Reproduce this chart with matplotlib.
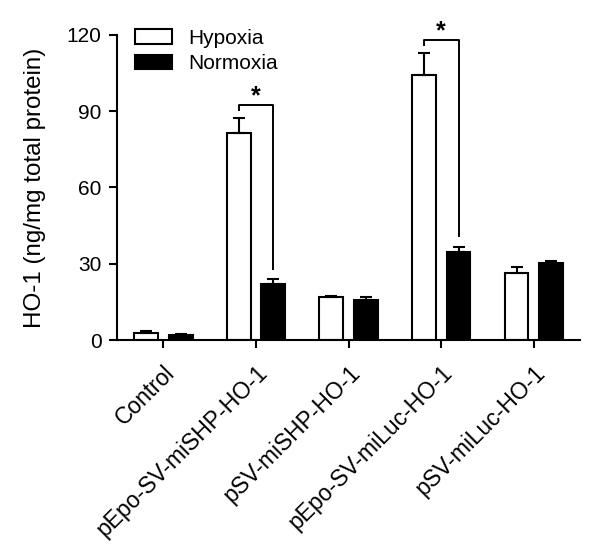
import numpy as np
import matplotlib.pyplot as plt

plt.rcParams['font.family'] = ['Liberation Sans', 'DejaVu Sans']

# data
groups = ['Control', 'pEpo-SV-miSHP-HO-1', 'pSV-miSHP-HO-1', 'pEpo-SV-miLuc-HO-1', 'pSV-miLuc-HO-1']
hypoxia = [2.8, 81.6, 17.0, 104.2, 26.5]
hypoxia_err = [0.6, 5.6, 0.3, 8.6, 2.1]
normoxia = [1.9, 21.9, 15.7, 34.7, 30.2]
normoxia_err = [0.3, 2.0, 1.3, 1.8, 1.0]
yticks = [0, 30, 60, 90, 120]

# significance brackets: (group index, left bottom, top, right bottom, star y)
sig = [(1, 90.5, 92.4, 27.8, 95.8), (3, 116.0, 118.0, 41.0, 121.2)]

fig = plt.figure(figsize=(6, 5.53), dpi=100)
ax = fig.add_axes([0.195, 0.385, 0.772, 0.552])

x = np.arange(len(groups))
w = 0.257
off = 0.187
ax.bar(x - off, hypoxia, w, color='white', edgecolor='black', linewidth=1.5,
       yerr=[np.zeros(len(x)), hypoxia_err], capsize=4.5,
       error_kw=dict(elinewidth=1.5, capthick=1.5), label='Hypoxia')
ax.bar(x + off, normoxia, w, color='black', edgecolor='black', linewidth=1.5,
       yerr=[np.zeros(len(x)), normoxia_err], capsize=4.5,
       error_kw=dict(elinewidth=1.5, capthick=1.5), label='Normoxia')

for i, yl, yt, yr, ys in sig:
    ax.plot([i - off, i - off, i + off, i + off], [yl, yt, yt, yr], color='black', lw=1.4,
            clip_on=False)
    ax.text(i, ys, '*', ha='center', va='center', fontsize=18, fontweight='bold', clip_on=False)

ax.set_xlim(-0.5, 4.5)
ax.set_ylim(0, 120)
ax.set_yticks(yticks)
ax.set_xticks(x)
ax.set_xticklabels(groups, rotation=45, ha='right', va='top', rotation_mode='anchor')
ax.tick_params(axis='both', width=1.5, length=6, direction='out')
ax.tick_params(axis='y', labelsize=15, pad=5)
ax.tick_params(axis='x', labelsize=16.5, pad=9)
ax.set_ylabel('HO-1 (ng/mg total protein)', fontsize=17.4, labelpad=15)
for s in ['top', 'right']:
    ax.spines[s].set_visible(False)
for s in ['left', 'bottom']:
    ax.spines[s].set_linewidth(1.5)

ax.legend(loc='upper left', bbox_to_anchor=(0.039, 1.02), frameon=False, fontsize=15,
          borderaxespad=0, borderpad=0,
          handlelength=1.78, handleheight=0.67, handletextpad=0.77, labelspacing=0.3)

fig.savefig('out.png', dpi=100)
